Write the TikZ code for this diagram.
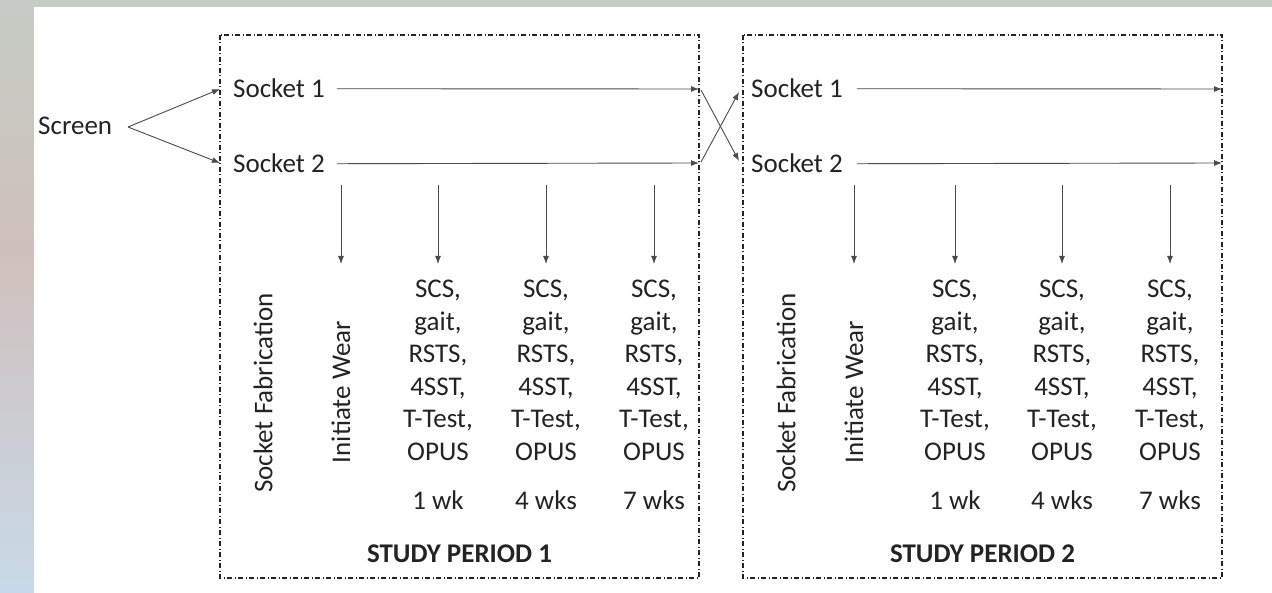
\documentclass[tikz,border=0pt]{standalone}
\usepackage{fontspec}
\setmainfont{Carlito}
\usetikzlibrary{arrows.meta}
\definecolor{ink}{RGB}{35,35,35}
\definecolor{lineg}{RGB}{75,75,75}
\definecolor{bgtop}{RGB}{196,204,196}
\definecolor{bgmid}{RGB}{208,192,188}
\definecolor{bgbot}{RGB}{200,218,232}
\tikzset{
  txt/.style={font=\fontsize{27}{32.5}\selectfont, text=ink, inner sep=0pt},
  bold/.style={txt, font=\fontsize{27}{32.5}\selectfont\bfseries, anchor=base},
  col/.style={txt, align=center, anchor=north},
  vert/.style={txt, rotate=90, anchor=center},
  period/.style={draw=ink, line width=1.3pt, dash pattern=on 5pt off 2.5pt on 1pt off 2.5pt},
  flow/.style={draw=lineg, line width=0.9pt, -{Latex[length=8pt,width=6pt]}},
}
\begin{document}
\begin{tikzpicture}[x=1pt,y=-1pt]
  % backdrop and white panel
  \useasboundingbox (0,0) rectangle (1272,593);
  \shade[top color=bgtop, bottom color=bgmid] (0,0) rectangle (1272,250);
  \shade[top color=bgmid, bottom color=bgbot] (0,250) rectangle (1272,593);
  \fill[white] (34,7) rectangle (1272,593);

  % study period frames
  \draw[period] (220,35) rectangle (699,578);
  \draw[period] (743,35) rectangle (1222,578);

  % screening and socket allocation
  \node[txt, anchor=base west] (scr) at (38,135) {Screen};
  \node[txt, anchor=base west] (s11) at (233,98) {Socket 1};
  \node[txt, anchor=base west] (s12) at (233,173) {Socket 2};
  \node[txt, anchor=base west] (s21) at (751,98) {Socket 1};
  \node[txt, anchor=base west] (s22) at (751,173) {Socket 2};

  \coordinate (sx) at (128,127);
  \coordinate (a11) at (220,89);
  \coordinate (a12) at (220,163);
  \coordinate (e11) at (699,89);
  \coordinate (e12) at (699,163);
  \coordinate (x11) at (701,90);
  \coordinate (x12) at (701,162);
  \coordinate (b21) at (739,92);
  \coordinate (b22) at (739,161);
  \coordinate (e21) at (1222,89);
  \coordinate (e22) at (1222,163);

  \draw[flow] (sx) -- (a11);
  \draw[flow] (sx) -- (a12);
  \draw[flow] (s11.east) ++(12,0) -- (e11);
  \draw[flow] (s12.east) ++(12,0) -- (e12);
  \draw[flow] (x11) -- (b22);
  \draw[flow] (x12) -- (b21);
  \draw[flow] (s21.east) ++(14,0) -- (e21);
  \draw[flow] (s22.east) ++(14,0) -- (e22);

  % period 1 columns
  \node[vert] (fab1) at (263,393) {Socket Fabrication};
  \node[vert] (wear1) at (341,392) {Initiate Wear};
  \foreach \n/\x/\w in {p1/438/1 wk, q1/546/4 wks, r1/654/7 wks}{
    \node[col] (\n) at (\x,280) {SCS,\\gait,\\RSTS,\\4SST,\\T-Test,\\OPUS};
    \node[txt, anchor=base] (\n w) at (\x,509) {\w};
    \coordinate (\n t) at (\x,185);
    \draw[flow, shorten >=16pt] (\n t) -- (\n.north);
  }
  \coordinate (wear1t) at (341,185);
  \coordinate (wear1b) at (341,264);
  \draw[flow] (wear1t) -- (wear1b);
  \node[bold] (sp1) at (459.5,562) {STUDY PERIOD 1};

  % period 2 columns
  \node[vert] (fab2) at (786,393) {Socket Fabrication};
  \node[vert] (wear2) at (854,392) {Initiate Wear};
  \foreach \n/\x/\w in {p2/955/1 wk, q2/1062/4 wks, r2/1170/7 wks}{
    \node[col] (\n) at (\x,280) {SCS,\\gait,\\RSTS,\\4SST,\\T-Test,\\OPUS};
    \node[txt, anchor=base] (\n w) at (\x,509) {\w};
    \coordinate (\n t) at (\x,185);
    \draw[flow, shorten >=16pt] (\n t) -- (\n.north);
  }
  \coordinate (wear2t) at (854,185);
  \coordinate (wear2b) at (854,264);
  \draw[flow] (wear2t) -- (wear2b);
  \node[bold] (sp2) at (982.5,562) {STUDY PERIOD 2};
\end{tikzpicture}
\end{document}
